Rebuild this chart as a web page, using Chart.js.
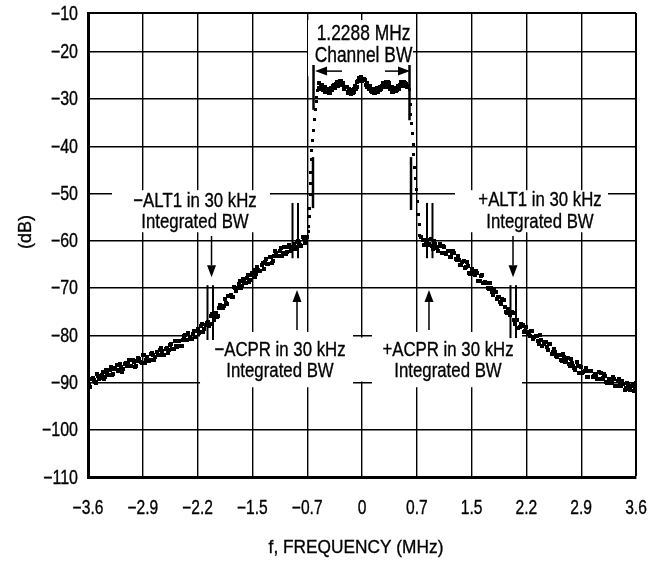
<!DOCTYPE html>
<html><head><meta charset="utf-8">
<script src="https://cdn.jsdelivr.net/npm/chart.js@4.4.1/dist/chart.umd.min.js"></script>
<style>html,body{margin:0;padding:0;background:#fff}#wrap{width:665px;height:561px;position:relative}</style>
</head><body><div id="wrap"><canvas id="c"></canvas></div>
<script>
const FONT = "'Liberation Sans', Arial, sans-serif";

const xTickValues = [-3.6,-2.88,-2.16,-1.44,-0.72,0,0.72,1.44,2.16,2.88,3.6];
const xTickLabels = ['−3.6','−2.9','−2.2','−1.5','−0.7','0','0.7','1.5','2.2','2.9','3.6'];
const yTickValues = [-110,-100,-90,-80,-70,-60,-50,-40,-30,-20,-11.8];
const yTickLabels = ['−110','−100','−90','−80','−70','−60','−50','−40','−30','−20','−10'];

// sweep 1
const leftFreq = [-3.60,-3.57,-3.54,-3.51,-3.48,-3.45,-3.42,-3.39,-3.36,-3.33,
-3.30,-3.27,-3.24,-3.21,-3.18,-3.15,-3.12,-3.09,-3.06,-3.03,
-3.00,-2.97,-2.94,-2.91,-2.88,-2.85,-2.82,-2.79,-2.76,-2.73,
-2.70,-2.67,-2.64,-2.61,-2.58,-2.55,-2.52,-2.49,-2.46,-2.43,
-2.40,-2.37,-2.34,-2.31,-2.28,-2.25,-2.22,-2.19,-2.16,-2.13,
-2.10,-2.07,-2.04,-2.01,-1.98,-1.95,-1.92,-1.89,-1.86,-1.83,
-1.80,-1.77,-1.74,-1.71,-1.68,-1.65,-1.62,-1.59,-1.56,-1.53,
-1.50,-1.47,-1.44,-1.41,-1.38,-1.35,-1.32,-1.29,-1.26,-1.23,
-1.20,-1.17,-1.14,-1.11,-1.08,-1.05,-1.02,-0.99,-0.96,-0.93,
-0.90,-0.87,-0.84,-0.81,-0.78,-0.75,-0.72];
const leftLevel = [-90.1,-91.0,-89.1,-90.0,-88.2,-89.3,-88.4,-89.3,-87.4,-88.4,
-86.7,-88.3,-86.9,-87.6,-86.0,-87.7,-86.0,-86.6,-85.2,-86.6,
-85.6,-86.5,-84.9,-85.7,-84.2,-85.8,-84.5,-85.2,-83.7,-85.2,
-83.5,-84.1,-82.7,-84.1,-83.0,-83.8,-82.1,-82.9,-81.2,-82.5,
-81.3,-82.2,-80.2,-81.0,-79.6,-80.8,-79.7,-80.4,-78.7,-79.4,
-77.6,-78.7,-77.4,-78.0,-76.0,-76.8,-75.2,-75.9,-73.7,-74.3,
-72.3,-73.3,-71.6,-72.0,-69.7,-70.7,-69.2,-70.1,-68.1,-68.9,
-67.3,-68.4,-66.8,-67.7,-65.5,-66.5,-65.2,-66.0,-63.9,-64.9,
-63.5,-64.3,-62.2,-63.3,-62.2,-63.2,-61.4,-62.3,-60.8,-62.1,
-60.6,-61.8,-60.0,-60.8,-59.2,-60.5,-59.2];

const centerFreq = [-0.57,-0.55,-0.53,-0.51,-0.49,-0.47,-0.45,-0.43,-0.41,-0.39,
-0.37,-0.35,-0.33,-0.31,-0.29,-0.27,-0.25,-0.23,-0.21,-0.19,
-0.17,-0.15,-0.13,-0.11,-0.09,-0.07,-0.05,-0.03,-0.01,0.01,
0.03,0.05,0.07,0.09,0.11,0.13,0.15,0.17,0.19,0.21,
0.23,0.25,0.27,0.29,0.31,0.33,0.35,0.37,0.39,0.41,
0.43,0.45,0.47,0.49,0.51,0.53,0.55,0.57,0.59];
const centerLevel = [-26.7,-27.8,-27.2,-28.2,-27.5,-28.5,-27.9,-28.7,-27.7,-28.2,
-27.0,-27.5,-26.5,-27.2,-26.2,-27.0,-26.6,-27.9,-27.5,-28.5,
-27.9,-28.9,-28.2,-28.5,-27.3,-27.4,-26.2,-26.1,-25.3,-25.9,
-25.8,-27.0,-26.6,-27.9,-27.5,-28.5,-27.9,-28.8,-28.0,-28.5,
-27.4,-27.8,-26.8,-27.3,-26.3,-27.1,-26.7,-27.8,-27.5,-28.6,
-27.9,-28.4,-27.3,-27.5,-26.5,-27.0,-26.3,-27.1,-27.4];

const rightFreq = [0.78,0.81,0.84,0.87,0.90,0.93,0.96,0.99,1.02,1.05,
1.08,1.11,1.14,1.17,1.20,1.23,1.26,1.29,1.32,1.35,
1.38,1.41,1.44,1.47,1.50,1.53,1.56,1.59,1.62,1.65,
1.68,1.71,1.74,1.77,1.80,1.83,1.86,1.89,1.92,1.95,
1.98,2.01,2.04,2.07,2.10,2.13,2.16,2.19,2.22,2.25,
2.28,2.31,2.34,2.37,2.40,2.43,2.46,2.49,2.52,2.55,
2.58,2.61,2.64,2.67,2.70,2.73,2.76,2.79,2.82,2.85,
2.88,2.91,2.94,2.97,3.00,3.03,3.06,3.09,3.12,3.15,
3.18,3.21,3.24,3.27,3.30,3.33,3.36,3.39,3.42,3.45,
3.48,3.51,3.54,3.57,3.60];
const rightLevel = [-59.3,-61.0,-60.1,-61.0,-59.6,-61.7,-60.6,-61.5,-60.6,-62.6,
-61.3,-62.7,-62.2,-63.4,-62.2,-63.9,-63.2,-65.1,-64.5,-65.7,
-64.6,-66.9,-66.0,-67.1,-66.4,-68.6,-67.5,-69.0,-68.7,-70.1,
-69.0,-70.9,-70.4,-72.4,-72.0,-73.3,-72.5,-75.0,-74.4,-75.7,
-75.2,-77.6,-76.7,-78.3,-78.1,-79.4,-78.2,-79.8,-79.0,-80.8,
-80.2,-81.2,-80.0,-82.3,-81.4,-82.5,-81.8,-84.0,-82.9,-84.4,
-84.1,-85.2,-83.9,-85.6,-84.8,-86.6,-85.9,-86.9,-85.7,-87.9,
-86.8,-87.8,-86.9,-88.9,-87.6,-88.9,-88.3,-89.3,-87.8,-89.3,
-88.3,-90.0,-89.2,-90.1,-88.8,-90.8,-89.7,-90.6,-89.6,-91.6,
-90.2,-91.4,-90.8,-91.7,-90.2];

// sweep 2 (interleaved bins)
const leftFreq2 = [-3.585,-3.555,-3.525,-3.495,-3.465,-3.435,-3.405,-3.375,-3.345,-3.315,
-3.285,-3.255,-3.225,-3.195,-3.165,-3.135,-3.105,-3.075,-3.045,-3.015,
-2.985,-2.955,-2.925,-2.895,-2.865,-2.835,-2.805,-2.775,-2.745,-2.715,
-2.685,-2.655,-2.625,-2.595,-2.565,-2.535,-2.505,-2.475,-2.445,-2.415,
-2.385,-2.355,-2.325,-2.295,-2.265,-2.235,-2.205,-2.175,-2.145,-2.115,
-2.085,-2.055,-2.025,-1.995,-1.965,-1.935,-1.905,-1.875,-1.845,-1.815,
-1.785,-1.755,-1.725,-1.695,-1.665,-1.635,-1.605,-1.575,-1.545,-1.515,
-1.485,-1.455,-1.425,-1.395,-1.365,-1.335,-1.305,-1.275,-1.245,-1.215,
-1.185,-1.155,-1.125,-1.095,-1.065,-1.035,-1.005,-0.975,-0.945,-0.915,
-0.885,-0.855,-0.825,-0.795,-0.765,-0.735];
const leftLevel2 = [-90.6,-89.3,-89.4,-90.1,-88.6,-89.0,-87.7,-88.8,-88.1,-87.3,
-88.4,-87.2,-86.2,-87.3,-86.7,-87.2,-85.8,-85.9,-86.5,-85.2,
-86.7,-85.5,-85.0,-85.9,-84.2,-85.2,-85.5,-84.0,-84.1,-84.5,
-84.2,-83.1,-83.4,-84.2,-82.7,-83.1,-81.8,-82.9,-82.2,-81.3,
-82.3,-80.9,-79.9,-80.9,-80.3,-80.7,-79.2,-79.2,-79.6,-78.0,
-79.3,-77.8,-77.1,-77.7,-75.6,-76.2,-76.1,-74.2,-73.9,-73.9,
-73.2,-71.6,-71.5,-71.9,-70.0,-70.1,-68.6,-69.6,-68.8,-67.8,
-68.7,-67.3,-66.2,-67.1,-66.2,-66.5,-64.7,-64.6,-65.0,-63.4,
-64.7,-63.3,-62.6,-63.3,-61.5,-62.5,-62.8,-61.3,-61.3,-61.7,
-61.3,-60.2,-60.4,-61.1,-59.6,-59.9];

const centerFreq2 = [-0.56,-0.54,-0.52,-0.50,-0.48,-0.46,-0.44,-0.42,-0.40,-0.38,
-0.36,-0.34,-0.32,-0.30,-0.28,-0.26,-0.24,-0.22,-0.20,-0.18,
-0.16,-0.14,-0.12,-0.10,-0.08,-0.06,-0.04,-0.02,0.00,0.02,
0.04,0.06,0.08,0.10,0.12,0.14,0.16,0.18,0.20,0.22,
0.24,0.26,0.28,0.30,0.32,0.34,0.36,0.38,0.40,0.42,
0.44,0.46,0.48,0.50,0.52,0.54,0.56,0.58];
const centerLevel2 = [-27.6,-27.1,-27.0,-28.1,-28.6,-28.2,-27.8,-28.7,-27.9,-27.3,
-27.7,-26.9,-27.2,-26.4,-26.1,-27.1,-27.7,-27.5,-27.5,-28.8,
-28.4,-28.1,-28.7,-27.8,-27.8,-26.5,-25.6,-25.9,-26.1,-25.8,
-25.9,-27.4,-27.2,-27.2,-28.3,-28.0,-28.8,-28.1,-27.6,-28.2,
-28.2,-27.3,-26.6,-27.4,-26.7,-26.5,-27.5,-27.5,-28.5,-28.0,
-27.6,-28.0,-27.9,-27.0,-26.3,-27.3,-26.7,-26.8];

const rightFreq2 = [0.795,0.825,0.855,0.885,0.915,0.945,0.975,1.005,1.035,1.065,
1.095,1.125,1.155,1.185,1.215,1.245,1.275,1.305,1.335,1.365,
1.395,1.425,1.455,1.485,1.515,1.545,1.575,1.605,1.635,1.665,
1.695,1.725,1.755,1.785,1.815,1.845,1.875,1.905,1.935,1.965,
1.995,2.025,2.055,2.085,2.115,2.145,2.175,2.205,2.235,2.265,
2.295,2.325,2.355,2.385,2.415,2.445,2.475,2.505,2.535,2.565,
2.595,2.625,2.655,2.685,2.715,2.745,2.775,2.805,2.835,2.865,
2.895,2.925,2.955,2.985,3.015,3.045,3.075,3.105,3.135,3.165,
3.195,3.225,3.255,3.285,3.315,3.345,3.375,3.405,3.435,3.465,
3.495,3.525,3.555,3.585];
const rightLevel2 = [-59.9,-61.0,-59.9,-60.6,-61.1,-60.0,-61.3,-62.1,-61.2,-61.1,
-62.5,-62.1,-63.5,-62.5,-62.6,-64.0,-64.1,-65.1,-64.2,-65.5,
-65.3,-67.1,-66.3,-67.2,-66.8,-68.5,-67.2,-69.0,-69.0,-70.2,
-70.0,-71.5,-70.9,-71.9,-72.9,-72.3,-74.0,-75.3,-74.8,-75.1,
-76.8,-76.8,-78.5,-77.6,-77.8,-79.2,-79.3,-80.2,-79.1,-80.3,
-80.1,-81.8,-80.9,-81.8,-81.4,-83.1,-81.8,-83.6,-83.5,-84.5,
-84.2,-85.4,-84.5,-85.4,-86.1,-85.1,-86.5,-87.4,-86.6,-86.5,
-87.9,-87.5,-88.8,-87.6,-87.5,-88.7,-88.5,-89.3,-88.0,-89.1,
-88.6,-90.2,-89.2,-89.9,-89.3,-90.7,-89.2,-90.8,-90.4,-91.2,
-90.6,-91.6,-90.5,-91.1];

// channel skirts
const leftEdgeFreq = [-0.705,-0.700,-0.695,-0.690,-0.683,-0.680,-0.673,-0.668,-0.660,-0.648,-0.639,-0.630,-0.617,-0.604,-0.595,-0.582];
const leftEdgeLevel = [-58.0,-57.0,-54.9,-53.1,-50.3,-47.8,-45.6,-42.9,-40.8,-38.7,-36.6,-34.4,-32.3,-30.6,-29.6,-28.1];
const rightEdgeFreq = [0.605,0.618,0.631,0.640,0.653,0.666,0.674,0.683,0.696,0.706,0.719,0.727,0.740,0.749,0.762];
const rightEdgeLevel = [-27.2,-28.0,-31.2,-33.3,-35.1,-37.2,-39.7,-41.8,-44.6,-46.8,-49.2,-51.7,-54.5,-56.6,-58.8];

// ---- annotation geometry (data units: MHz, dB) ----
const whiteBoxes = [
  {x1:-0.709,x2:0.67,y1:-13.3,y2:-25.2},
  {x1:-3.285,x2:-1.209,y1:-49.3,y2:-58.2},
  {x1:1.222,x2:3.232,y1:-49.3,y2:-58.2},
  {x1:-2.128,x2:-0.118,y1:-79.3,y2:-91.0},
  {x1:0.131,x2:2.102,y1:-79.3,y2:-91.0},
  {x1:-0.053,x2:0.066,y1:-80.5,y2:-89.8}
];
const markerLines = [
  {x:-0.637,y1:-22.8,y2:-32.3,w:2.5},{x:0.624,y1:-22.8,y2:-34.5,w:2.5},
  {x:-0.644,y1:-42.3,y2:-53.1,w:2.5},{x:0.644,y1:-42.3,y2:-53.5,w:2.5},
  {x:-0.913,y1:-52.0,y2:-63.7,w:2},{x:-0.841,y1:-52.0,y2:-63.7,w:2},
  {x:0.854,y1:-52.0,y2:-63.7,w:2},{x:0.926,y1:-52.0,y2:-63.7,w:2},
  {x:-2.030,y1:-69.4,y2:-81.0,w:2},{x:-1.958,y1:-69.4,y2:-81.0,w:2},
  {x:1.951,y1:-69.4,y2:-80.6,w:2},{x:2.023,y1:-69.4,y2:-80.6,w:2}
];
const arrows = [
  {x1:-0.263,y1:-24.1,x2:-0.617,y2:-24.1},
  {x1:0.302,y1:-24.1,x2:0.631,y2:-24.1},
  {x1:-1.977,y1:-59.0,x2:-1.977,y2:-67.7},
  {x1:1.984,y1:-59.0,x2:1.984,y2:-67.7},
  {x1:-0.854,y1:-78.9,x2:-0.854,y2:-70.4},
  {x1:0.880,y1:-78.9,x2:0.880,y2:-70.4}
];
const textLabels = [
  {lines:['1.2288 MHz','Channel BW'],x:0.02,y:[-17.53,-22.12],size:22,sx:0.79},
  {lines:['−ALT1 in 30 kHz','Integrated BW'],x:-2.194,y:[-52.87,-57.31],size:21,sx:0.8},
  {lines:['+ALT1 in 30 kHz','Integrated BW'],x:2.339,y:[-52.66,-57.25],size:21,sx:0.8},
  {lines:['−ACPR in 30 kHz','Integrated BW'],x:-1.077,y:[-84.40,-88.78],size:21,sx:0.8},
  {lines:['+ACPR in 30 kHz','Integrated BW'],x:1.130,y:[-84.40,-88.78],size:21,sx:0.8}
];

function zip(xs, ys){ return xs.map((x,i)=>({x:x,y:ys[i]})); }
const bandPoints = [].concat(
  zip(leftFreq,leftLevel), zip(centerFreq,centerLevel), zip(rightFreq,rightLevel),
  zip(leftFreq2,leftLevel2), zip(centerFreq2,centerLevel2), zip(rightFreq2,rightLevel2));
const edgePoints = [].concat(zip(leftEdgeFreq,leftEdgeLevel), zip(rightEdgeFreq,rightEdgeLevel));

function sprite(w, h){
  const c = document.createElement('canvas');
  c.width = w; c.height = h;
  const g = c.getContext('2d'); g.fillStyle = '#000'; g.fillRect(0,0,w,h);
  return c;
}
const bandDot = sprite(4,4);
const edgeDot = sprite(3,3);

// narrow text (condensed Helvetica look)
function narrowText(ctx, s, x, y, size, sx, align, baseline){
  ctx.save();
  ctx.font = size + 'px ' + FONT;
  ctx.textAlign = align; ctx.textBaseline = baseline;
  ctx.translate(x, y); ctx.scale(sx, 1);
  ctx.fillStyle = '#000'; ctx.strokeStyle = '#000'; ctx.lineWidth = 0.35;
  ctx.fillText(s, 0, 0);
  ctx.strokeText(s, 0, 0);
  ctx.restore();
}

const annotPlugin = {
  id:'annot',
  beforeDatasetsDraw(chart){
    const ctx = chart.ctx, xs = chart.scales.x, ys = chart.scales.y;
    ctx.save();
    ctx.fillStyle = '#fff';
    whiteBoxes.forEach(b=>{
      const x1 = xs.getPixelForValue(b.x1), x2 = xs.getPixelForValue(b.x2);
      const y1 = ys.getPixelForValue(b.y1), y2 = ys.getPixelForValue(b.y2);
      ctx.fillRect(x1, y1, x2-x1, y2-y1);
    });
    ctx.restore();
  },
  afterDatasetsDraw(chart){
    const ctx = chart.ctx, xs = chart.scales.x, ys = chart.scales.y, ca = chart.chartArea;
    ctx.save();
    ctx.strokeStyle = '#000'; ctx.fillStyle = '#000';
    markerLines.forEach(m=>{
      const x = xs.getPixelForValue(m.x);
      ctx.lineWidth = m.w;
      ctx.beginPath();
      ctx.moveTo(x, ys.getPixelForValue(m.y1));
      ctx.lineTo(x, ys.getPixelForValue(m.y2));
      ctx.stroke();
    });
    arrows.forEach(a=>{
      const x1 = xs.getPixelForValue(a.x1), y1 = ys.getPixelForValue(a.y1);
      const x2 = xs.getPixelForValue(a.x2), y2 = ys.getPixelForValue(a.y2);
      const ang = Math.atan2(y2-y1, x2-x1);
      const L = 12, W = 4.5;
      const bx = x2 - L*Math.cos(ang), by = y2 - L*Math.sin(ang);
      ctx.lineWidth = 1.5;
      ctx.beginPath(); ctx.moveTo(x1,y1); ctx.lineTo(bx,by); ctx.stroke();
      ctx.beginPath();
      ctx.moveTo(x2,y2);
      ctx.lineTo(bx + W*Math.sin(ang), by - W*Math.cos(ang));
      ctx.lineTo(bx - W*Math.sin(ang), by + W*Math.cos(ang));
      ctx.closePath(); ctx.fill();
    });
    textLabels.forEach(t=>{
      const x = xs.getPixelForValue(t.x);
      t.lines.forEach((s,i)=>narrowText(ctx, s, x, ys.getPixelForValue(t.y[i]), t.size, t.sx, 'center', 'alphabetic'));
    });
    // tick labels
    xs.ticks.forEach((t,i)=>narrowText(ctx, xTickLabels[i], xs.getPixelForValue(t.value), ca.bottom + 37, 19.5, 0.8, 'center', 'alphabetic'));
    ys.ticks.forEach((t,i)=>narrowText(ctx, yTickLabels[i], ca.left - 10, ys.getPixelForValue(t.value) + 6.5, 19.5, 0.82, 'right', 'alphabetic'));
    // axis titles
    narrowText(ctx, 'f, FREQUENCY (MHz)', 356, 553, 19, 0.91, 'center', 'alphabetic');
    ctx.translate(31, 232); ctx.rotate(-Math.PI/2);
    narrowText(ctx, '(dB)', 0, 0, 19, 0.95, 'center', 'alphabetic');
    ctx.restore();
  }
};

Chart.defaults.font.family = FONT;
Chart.defaults.color = '#000';

new Chart(document.getElementById('c'), {
  type:'scatter',
  data:{datasets:[
    { data: bandPoints, pointStyle: bandDot, pointRadius:2, pointHoverRadius:2,
      backgroundColor:'#000', borderWidth:0, showLine:false },
    { data: edgePoints, pointStyle: edgeDot, pointRadius:2, pointHoverRadius:2,
      backgroundColor:'#000', borderWidth:0, showLine:false }
  ]},
  options:{
    responsive:true, maintainAspectRatio:false, devicePixelRatio:1,
    animation:false,
    events:[],
    layout:{padding:{top:13,right:29,left:0,bottom:0}},
    plugins:{legend:{display:false},tooltip:{enabled:false}},
    scales:{
      x:{
        type:'linear', min:-3.6, max:3.6,
        afterBuildTicks(s){ s.ticks = xTickValues.map(v=>({value:v})); },
        afterFit(s){ s.height = 84; },
        ticks:{ display:false },
        grid:{ color:'#000', lineWidth:(c)=> c.index===xTickValues.length-1 ? 2 : 1.4, drawTicks:false },
        border:{ display:true, color:'#000', width:3 }
      },
      y:{
        type:'linear', min:-110, max:-11.8,
        afterBuildTicks(s){ s.ticks = yTickValues.map(v=>({value:v})); },
        afterFit(s){ s.width = 88; },
        ticks:{ display:false },
        grid:{ color:'#000', lineWidth:(c)=> c.index===yTickValues.length-1 ? 2 : 1.4, drawTicks:false },
        border:{ display:true, color:'#000', width:3 }
      }
    }
  },
  plugins:[annotPlugin]
});
</script></body></html>
